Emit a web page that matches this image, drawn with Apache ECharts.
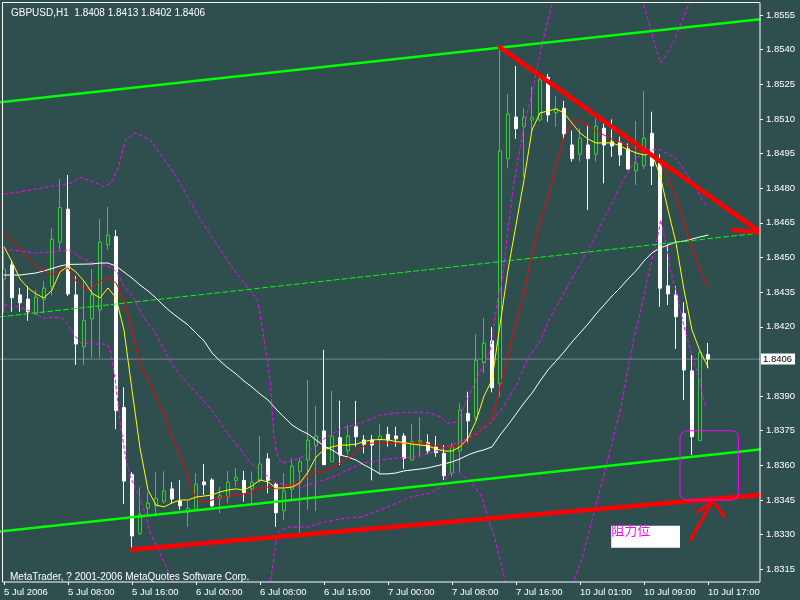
<!DOCTYPE html>
<html><head><meta charset="utf-8">
<script src="https://cdn.jsdelivr.net/npm/echarts@6/dist/echarts.min.js"></script>
<style>html,body{margin:0;padding:0;background:#2F4F4F}#c{width:800px;height:600px}</style>
</head><body><div id="c"></div>
<script>
// ---- categories (hourly bars) ----
const daySpecs = [['5 Jul',0,23],['6 Jul',0,23],['7 Jul',0,23],['10 Jul',1,23]];
const categories = [];
daySpecs.forEach(d => { for (let h = d[1]; h <= d[2]; h++) categories.push(d[0] + ' ' + (h < 10 ? '0' : '') + h + ':00'); });
categories[0] = '5 Jul 2006';

// ---- candles [open, close, low, high] ----
const candles = [
[1.84407,1.84450,1.84260,1.84533],[1.84468,1.84326,1.84265,1.84489],[1.84338,1.84304,1.84265,1.84368],[1.84320,1.84265,1.84226,1.84377],
[1.84255,1.84328,1.84251,1.84359],[1.84319,1.84367,1.84258,1.84398],[1.84374,1.84579,1.84335,1.84626],[1.84566,1.84717,1.84533,1.84840],
[1.84709,1.84342,1.84333,1.84857],[1.84338,1.84125,1.84035,1.84420],[1.84114,1.84228,1.84035,1.84398],[1.84234,1.84338,1.84066,1.84450],
[1.84273,1.84566,1.84066,1.84667],[1.84555,1.84597,1.84533,1.84720],[1.84590,1.83837,1.83757,1.84619],[1.83850,1.83532,1.83433,1.83938],
[1.83560,1.83294,1.83237,1.83571],[1.83306,1.83389,1.83298,1.83505],[1.83414,1.83437,1.83381,1.83483],[1.83424,1.83457,1.83378,1.83570],
[1.83444,1.83489,1.83433,1.83574],[1.83498,1.83454,1.83436,1.83528],[1.83446,1.83425,1.83407,1.83537],[1.83398,1.83414,1.83334,1.83446],
[1.83410,1.83519,1.83402,1.83566],[1.83528,1.83516,1.83472,1.83606],[1.83537,1.83425,1.83420,1.83545],[1.83457,1.83469,1.83392,1.83508],
[1.83464,1.83527,1.83436,1.83576],[1.83535,1.83548,1.83508,1.83589],[1.83535,1.83483,1.83443,1.83576],[1.83498,1.83527,1.83436,1.83573],
[1.83535,1.83606,1.83525,1.83727],[1.83628,1.83535,1.83479,1.83652],[1.83518,1.83395,1.83334,1.83528],[1.83404,1.83489,1.83363,1.83566],
[1.83496,1.83597,1.83450,1.83631],[1.83574,1.83616,1.83306,1.83631],[1.83623,1.83709,1.83407,1.83970],[1.83685,1.83727,1.83402,1.83857],
[1.83749,1.83603,1.83601,1.84100],[1.83616,1.83726,1.83615,1.83923],[1.83720,1.83645,1.83601,1.83880],[1.83663,1.83727,1.83645,1.83775],
[1.83767,1.83724,1.83681,1.83879],[1.83710,1.83692,1.83652,1.83731],[1.83710,1.83688,1.83535,1.83731],[1.83710,1.83727,1.83558,1.83779],
[1.83734,1.83710,1.83681,1.83767],[1.83727,1.83715,1.83681,1.83767],[1.83727,1.83631,1.83585,1.83739],[1.83623,1.83702,1.83620,1.83779],
[1.83696,1.83707,1.83637,1.83808],[1.83698,1.83663,1.83649,1.83734],[1.83681,1.83655,1.83637,1.83727],[1.83652,1.83555,1.83537,1.83688],
[1.83566,1.83681,1.83551,1.83696],[1.83663,1.83840,1.83573,1.83869],[1.83825,1.83793,1.83696,1.83919],[1.83808,1.84055,1.83796,1.84168],
[1.84045,1.84129,1.83999,1.84238],[1.84139,1.83936,1.83916,1.84199],[1.83955,1.84961,1.83897,1.85410],[1.84928,1.85121,1.84886,1.85208],
[1.85108,1.85058,1.85014,1.85329],[1.85066,1.85107,1.84850,1.85146],[1.85095,1.85107,1.85045,1.85240],[1.85095,1.85269,1.85088,1.85290],
[1.85280,1.85117,1.85088,1.85295],[1.85127,1.85146,1.85066,1.85199],[1.85146,1.85035,1.85006,1.85178],[1.84987,1.84928,1.84915,1.85049],
[1.84947,1.85016,1.84915,1.85060],[1.84987,1.84928,1.84706,1.85074],[1.84947,1.85069,1.84915,1.85103],[1.85060,1.84987,1.84821,1.85081],
[1.85001,1.84983,1.84936,1.85098],[1.84999,1.84944,1.84896,1.85023],[1.84970,1.84883,1.84879,1.84994],[1.84876,1.84908,1.84814,1.85091],
[1.84896,1.85016,1.84882,1.85221],[1.85038,1.84896,1.84814,1.85131],[1.84908,1.84367,1.84287,1.84947],[1.84377,1.84342,1.84294,1.84558],
[1.84338,1.84244,1.84104,1.84377],[1.84258,1.84013,1.83883,1.84306],[1.84009,1.83724,1.83645,1.84078],[1.83707,1.84088,1.83706,1.84095],
[1.8408,1.8406,1.8402,1.8413]
];

// ---- indicator lines, read per bar (bar index, price) ----
const maFast = [1.84546,1.84481,1.84407,1.84368,1.84342,1.84325,1.84359,1.84437,1.84463,1.84437,1.84398,1.84346,1.84325,1.84368,1.84325,1.84186,1.83926,1.83675,1.83493,1.83428,
1.83420,1.83437,1.83450,1.83450,1.83463,1.83467,1.83472,1.83485,1.83493,1.83498,1.83493,1.83511,1.83537,1.83528,1.83502,1.83502,1.83506,1.83524,1.83571,1.83636,
1.83667,1.83680,1.83688,1.83688,1.83692,1.83703,1.83710,1.83712,1.83710,1.83703,1.83699,1.83692,1.83688,1.83684,1.83671,1.83662,1.83662,1.83680,1.83718,1.83792,
1.83900,1.83970,1.84208,1.84446,1.84641,1.84836,1.85052,1.85126,1.85134,1.85143,1.85126,1.85082,1.85039,1.85013,1.84996,1.84996,1.84996,1.84983,1.84966,1.84953,
1.84944,1.84948,1.84857,1.84706,1.84563,1.84359,1.84186,1.84095,1.84026];
const maMid = [1.84606,1.84576,1.84537,1.84498,1.84463,1.84442,1.84424,1.84446,1.84455,1.84398,1.84364,1.84368,1.84398,1.84411,1.84390,1.84316,1.84186,1.84035,1.83970,1.83892,
1.83822,1.83723,1.83641,1.83545,1.83454,1.83441,1.83450,1.83459,1.83467,1.83472,1.83476,1.83485,1.83502,1.83506,1.83498,1.83506,1.83515,1.83528,1.83554,1.83571,
1.83576,1.83593,1.83610,1.83632,1.83658,1.83684,1.83697,1.83697,1.83697,1.83697,1.83697,1.83697,1.83697,1.83692,1.83684,1.83675,1.83680,1.83688,1.83701,1.83731,
1.83770,1.83805,1.83939,1.84078,1.84221,1.84346,1.84515,1.84654,1.84762,1.84901,1.85018,1.85087,1.85091,1.85069,1.85048,1.85030,1.85013,1.85000,1.84983,1.84966,
1.84953,1.84944,1.84909,1.84844,1.84762,1.84649,1.84537,1.84446,1.84372];
const maSlow = [[0,1.84424],[2,1.84424],[4,1.84433],[5,1.84442],[6,1.84452],[7,1.84463],[8,1.84470],[11,1.84472],[12,1.84476],[13,1.84476],[14,1.84463],[15,1.84437],
[16,1.84411],[17,1.84381],[18,1.84355],[19,1.84325],[20,1.84290],[21,1.84260],[22,1.84234],[23,1.84208],[24,1.84173],[25,1.84139],[26,1.84087],[27,1.84052],
[28,1.84022],[29,1.83996],[30,1.83965],[31,1.83939],[32,1.83909],[33,1.83883],[34,1.83844],[35,1.83809],[36,1.83775],[37,1.83753],[38,1.83736],[39,1.83710],
[40,1.83684],[41,1.83667],[42,1.83645],[43,1.83636],[44,1.83623],[45,1.83602],[46,1.83584],[47,1.83563],[48,1.83563],[49,1.83567],[50,1.83576],[51,1.83580],
[52,1.83584],[53,1.83589],[54,1.83597],[55,1.83606],[56,1.83615],[57,1.83628],[58,1.83645],[59,1.83658],[60,1.83667],[61,1.83680],[62,1.83731],[63,1.83775],
[64,1.83822],[65,1.83870],[66,1.83913],[67,1.83965],[68,1.84013],[69,1.84052],[70,1.84091],[71,1.84134],[72,1.84173],[73,1.84212],[74,1.84255],[75,1.84294],
[76,1.84333],[77,1.84368],[78,1.84407],[79,1.84442],[80,1.84485],[81,1.84520],[82,1.84541],[83,1.84554],[84,1.84567],[85,1.84571],[86,1.84580],[87,1.84589],[88,1.84597]];

const bandA = [[0,1.84775],[2.1,1.84785],[5.8,1.84807],[8.3,1.84821],[9.6,1.84847],[11.2,1.84828],[12.4,1.84807],[13.3,1.84821],[14.2,1.84879],[15.2,1.85009],
[16.4,1.85039],[18.3,1.85009],[21.4,1.84857],[24.6,1.84662],[28.3,1.84468],[31.7,1.84316],[32.4,1.84173],[33.3,1.83957],[33.7,1.83740],[34.2,1.83636],
[34.8,1.83610],[36.2,1.83623],[37.4,1.83636],[39.2,1.83697],[41.2,1.83740],[42.4,1.83762],[44.6,1.83783],[47.1,1.83818],[49.2,1.83827],[51.7,1.83831],
[53.3,1.83827],[54.6,1.83809],[55.4,1.83783],[56.7,1.83788],[57.9,1.83883],[59.2,1.83983],[60.8,1.84100],[61.7,1.84316],[62.3,1.84403],[62.9,1.84589],
[63.7,1.84814],[64.9,1.85052],[66.1,1.85225],[67.1,1.85399],[67.7,1.85485],[69.6,1.85745],[73,1.8590],[76,1.8590],[79.8,1.85615],[81.2,1.85442],
[81.7,1.85386],[82.1,1.85342],[82.9,1.85386],[83.7,1.85433],[85.8,1.85615],[88,1.8575]];
const bandB = [[0,1.84537],[3.7,1.84520],[6.2,1.84524],[8.3,1.84533],[9.6,1.84498],[11.2,1.84476],[13.3,1.84459],[14.2,1.84433],[14.9,1.84381],[16.2,1.84325],
[17.4,1.84242],[18.7,1.84186],[19.6,1.84130],[21.2,1.84026],[22.9,1.83957],[24.6,1.83896],[26.2,1.83827],[27.9,1.83740],[29.6,1.83667],[30.8,1.83610],
[32.1,1.83580],[33.7,1.83528],[35.4,1.83515],[37.1,1.83506],[39.2,1.83528],[41.2,1.83550],[42.9,1.83580],[44.9,1.83610],[47.1,1.83623],[49.2,1.83632],
[51.2,1.83636],[53.3,1.83654],[55.4,1.83680],[57.4,1.83710],[59.2,1.83740],[60.8,1.83783],[62.4,1.83853],[64.2,1.83957],[65.4,1.84056],[67.1,1.84143],
[68.1,1.84229],[73.7,1.84576],[74.9,1.84662],[76.2,1.84749],[77.4,1.84836],[79.2,1.84935],[80.4,1.84966],[82.1,1.84966],[83.7,1.84935],[84.6,1.84901],
[86.1,1.84823],[87.3,1.84749],[87.9,1.84719]];
const bandC = [[0,1.84294],[2.1,1.84286],[3.7,1.84260],[4.9,1.84238],[7.1,1.84242],[7.9,1.84216],[8.6,1.84173],[9.6,1.84130],[11.2,1.84125],[12.9,1.84125],
[13.3,1.84100],[13.9,1.83970],[14.6,1.83766],[15.2,1.83636],[15.8,1.83550],[16.7,1.83480],[17.4,1.83420],[18.3,1.83307],[19.9,1.83190],[21.1,1.83095],
[25,1.8295],[30,1.8295],[33.3,1.83095],[33.7,1.83190],[34.2,1.83307],[34.6,1.83320],[35.8,1.83333],[37.9,1.83333],[39.6,1.83350],[41.2,1.83363],
[42.9,1.83372],[44.6,1.83376],[47.1,1.83407],[50.8,1.83463],[53.3,1.83480],[54.6,1.83506],[55.8,1.83571],[56.8,1.83571],[58.1,1.83537],[59.6,1.83472],
[61.4,1.83277],[62.7,1.83095],[66,1.8290],[70,1.8295],[71.1,1.83095],[72.1,1.83177],[74.6,1.83506],[77.1,1.83848],[77.9,1.84000],[78.7,1.84143],
[79.6,1.84273],[80.4,1.84403],[81.2,1.84520],[81.7,1.84589],[82.1,1.84662],[82.9,1.84533],[83.3,1.84446],[84.2,1.84329],[84.9,1.84216],[85.8,1.84100],
[86.7,1.84000],[87.7,1.83853]];

// ---- drawn objects (bar index, price) ----
const channelUpper = [[-0.5,1.85172],[94.5,1.85531]];
const channelMid   = [[-0.5,1.84243],[94.5,1.84606]];
const channelLower = [[-0.5,1.83314],[94.5,1.83669]];
const supportLine  = [[16,1.83236],[94.5,1.83472]];
const downTrend    = [[62,1.85410],[94.3,1.84615]];
const downWingA    = [[91.1,1.84693],[94.3,1.84615]];
const downWingB    = [[91.1,1.84619],[94.3,1.84610]];
const upArrow      = [[85.8,1.83277],[88.5,1.83441]];
const upWingA      = [[86.7,1.83398],[88.6,1.83446]];
const upWingB      = [[90.1,1.83376],[88.6,1.83446]];
const zoneBox      = [[84.5,91.8,1.8345,1.8375]];
const noteBox      = [[75.9,84.5,1.83243,1.83339]];
const noteText     = '阻力位';
const lastPrice    = 1.8406;
const priceLine    = [[-0.5,lastPrice],[94.5,lastPrice]];
const yTicks = [1.8315,1.8330,1.8345,1.8360,1.8375,1.8390,1.8420,1.8435,1.8450,1.8465,1.8480,1.8495,1.8510,1.8525,1.8540,1.8555];
const titleText = 'GBPUSD,H1  1.8408 1.8413 1.8402 1.8406';
const footerText = 'MetaTrader, ? 2001-2006 MetaQuotes Software Corp.';

const BG = '#2F4F4F';
const chart = echarts.init(document.getElementById('c'));
function ln(data, color, width, type, z) {
  return {type:'line', xAxisIndex:1, yAxisIndex:0, data:data, symbol:'none', silent:true, z:z||3,
    lineStyle:{color:color, width:width, type:type||'solid', cap:'round'}, connectNulls:true};
}
const idx = a => a.map((v,i)=>[i,v]);
const showIdx = (i)=> i%8===0 && i<=88;
const priceSeries = ln(priceLine,'#778899',1,'solid',1);
priceSeries.endLabel = {show:true, formatter:lastPrice.toFixed(4), backgroundColor:'#fff', color:'#000', fontSize:9.5, padding:[1,3,0,2], distance:1};
chart.setOption({
  animation:false,
  backgroundColor:BG,
  textStyle:{fontFamily:'Liberation Sans, Arial, sans-serif'},
  title:[
    {text:titleText, left:6, top:3, textStyle:{color:'#fff', fontSize:10, fontWeight:'normal'}},
    {text:footerText, left:5, top:567, textStyle:{color:'#fff', fontSize:10, fontWeight:'normal'}}
  ],
  grid:{left:-0.5, right:40, top:2.5, bottom:18, containLabel:false},
  xAxis:[
    {type:'category', data:categories, boundaryGap:true, gridIndex:0,
     axisLine:{show:false, onZero:false}, splitLine:{show:false},
     axisTick:{show:true, alignWithLabel:true, interval:showIdx, length:3, lineStyle:{color:'#fff'}},
     axisLabel:{interval:showIdx, color:'#fff', fontSize:9.5, align:'left', margin:5, showMinLabel:true, showMaxLabel:true, hideOverlap:false}},
    {type:'value', min:-0.5, max:94.5, show:false, gridIndex:0, axisLine:{onZero:false}}
  ],
  yAxis:{type:'value', position:'right', min:1.83095, max:1.85604, scale:true,
     axisLine:{show:false, onZero:false}, splitLine:{show:false},
     axisTick:{show:true, inside:false, length:3, customValues:yTicks, lineStyle:{color:'#fff'}},
     axisLabel:{customValues:yTicks, color:'#fff', fontSize:9.5, margin:6, formatter:v=>v.toFixed(4)}},
  graphic:[{type:'rect', silent:true, z:100, shape:{x:2.5, y:2.5, width:757.5, height:579.5}, style:{fill:null, stroke:'#fff', lineWidth:1}}],
  series:[
    priceSeries,
    {type:'candlestick', xAxisIndex:0, yAxisIndex:0, data:candles, barWidth:4, silent:true, z:2,
     itemStyle:{color:BG, color0:'#fff', borderColor:'#32CD32', borderColor0:'#fff', borderWidth:1}},
    ln(bandA,'#FF00FF',1,[3,3],3),
    ln(bandB,'#FF00FF',1,[3,3],3),
    ln(bandC,'#FF00FF',1,[3,3],3),
    ln(maSlow,'#FFFFFF',1,'solid',4),
    ln(idx(maMid),'#FF0000',1,'solid',4),
    ln(idx(maFast),'#FFFF00',1,'solid',5),
    ln(channelMid,'#00FF00',1,[5,3],6),
    ln(channelUpper,'#00FF00',2.5,'solid',6),
    ln(channelLower,'#00FF00',2.5,'solid',6),
    ln(supportLine,'#FF0000',4.5,'solid',7),
    ln(downTrend,'#FF0000',4.5,'solid',7),
    ln(downWingA,'#FF0000',4,'solid',7),
    ln(downWingB,'#FF0000',4,'solid',7),
    ln(upArrow,'#FF0000',3,'solid',7),
    ln(upWingA,'#FF0000',3,'solid',7),
    ln(upWingB,'#FF0000',3,'solid',7),
    {type:'custom', xAxisIndex:1, yAxisIndex:0, data:zoneBox, silent:true, z:8, encode:{x:[0,1], y:[2,3]},
     renderItem:(params, api)=>{
       const a = api.coord([api.value(0), api.value(3)]);
       const b = api.coord([api.value(1), api.value(2)]);
       return {type:'rect', shape:{x:a[0], y:a[1], width:b[0]-a[0], height:b[1]-a[1], r:7}, style:{fill:null, stroke:'#FF00FF', lineWidth:1}};
     }},
    {type:'custom', xAxisIndex:1, yAxisIndex:0, data:noteBox, silent:true, z:8, encode:{x:[0,1], y:[2,3]},
     renderItem:(params, api)=>{
       const a = api.coord([api.value(0), api.value(3)]);
       const b = api.coord([api.value(1), api.value(2)]);
       return {type:'group', children:[
         {type:'rect', shape:{x:a[0], y:a[1], width:b[0]-a[0], height:b[1]-a[1]}, style:{fill:'#fff'}},
         {type:'text', x:a[0], y:a[1]-2, style:{text:noteText, fill:'#FF00FF', font:'13px "Noto Sans CJK SC"', textVerticalAlign:'top'}}
       ]};
     }}
  ]
});
</script></body></html>
